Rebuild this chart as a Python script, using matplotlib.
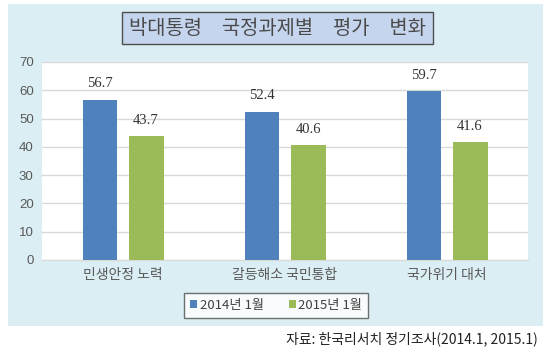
import matplotlib
matplotlib.use("Agg")
import matplotlib.pyplot as plt
import numpy as np
from matplotlib.patches import Rectangle

plt.rcParams['font.family'] = ['Noto Sans CJK KR', 'DejaVu Sans']

# --- data ---
categories = ['민생안정 노력', '갈등해소 국민통합', '국가위기 대처']
series_names = ['2014년 1월', '2015년 1월']
values_2014 = [56.7, 52.4, 59.7]
values_2015 = [43.7, 40.6, 41.6]
yticks = [0, 10, 20, 30, 40, 50, 60, 70]

title = '박대통령\u3000국정과제별\u3000평가\u3000변화'
source = '자료: 한국리서치 정기조사(2014.1, 2015.1)'

blue = '#4F81BD'
green = '#9BBB59'
panel_bg = '#DBEEF4'

W, H = 550, 356
fig = plt.figure(figsize=(W / 100, H / 100), dpi=100)
fig.patch.set_facecolor('white')

# outer light blue panel
fig.patches.append(Rectangle((8 / W, 1 - 326 / H), 535 / W, 322 / H,
                             transform=fig.transFigure, facecolor=panel_bg,
                             edgecolor='none', zorder=-5))

# title box
fig.patches.append(Rectangle((122 / W, 1 - 44 / H), 311 / W, 32 / H,
                             transform=fig.transFigure, facecolor='#C6D5EE',
                             edgecolor='#4D4D4D', linewidth=1.0, zorder=1))
fig.text(277.5 / W, 1 - 28.5 / H, title, ha='center', va='center',
         fontsize=14.3, color='#4a4a4a', fontweight='light', zorder=2)

ax = fig.add_axes([42 / W, 1 - 260 / H, 486 / W, 198 / H])
ax.set_zorder(3)
ax.set_facecolor('white')

x = np.arange(len(categories))
bw = 0.216
off = 0.142
b1 = ax.bar(x - off, values_2014, bw, color=blue, label=series_names[0], zorder=3)
b2 = ax.bar(x + off, values_2015, bw, color=green, label=series_names[1], zorder=3)

for bars in (b1, b2):
    for rect in bars:
        h = rect.get_height()
        ax.annotate(f'{h:.1f}', (rect.get_x() + rect.get_width() / 2, h),
                    xytext=(0, 11.5), textcoords='offset points',
                    ha='center', va='center', fontsize=10.5,
                    family='Liberation Serif', color='#333333')

ax.set_xlim(-0.5, 2.5)
ax.set_ylim(0, 70)
ax.set_yticks(yticks)
ax.set_yticklabels([str(t) for t in yticks], fontsize=9.5, color='#595959',
                   family='Liberation Sans')
ax.set_xticks(x)
ax.set_xticklabels(categories, fontsize=10, color='#595959', fontweight='light')
ax.tick_params(axis='both', length=0, pad=6)
ax.tick_params(axis='x', pad=6)
ax.grid(axis='y', color='#D9D9D9', linewidth=1.0, zorder=0)
ax.set_axisbelow(True)
for s in ['top', 'right', 'left']:
    ax.spines[s].set_visible(False)
ax.spines['bottom'].set_color('#D9D9D9')

leg = fig.legend(handles=[b1, b2], labels=series_names,
                 loc='center', bbox_to_anchor=(276 / W, 1 - 305.5 / H),
                 ncol=2, fontsize=9.5, frameon=True, fancybox=False,
                 handlelength=0.55, handleheight=0.55, handletextpad=0.2,
                 columnspacing=1.9, borderpad=0.45)
leg.set_zorder(5)
leg.get_frame().set_edgecolor('#4D4D4D')
leg.get_frame().set_facecolor('white')
leg.get_frame().set_linewidth(1.0)
for t in leg.get_texts():
    t.set_color('#404040')

fig.text(538 / W, 1 - 339 / H, source, ha='right', va='center',
         fontsize=10, color='#222222')

fig.savefig('out.png', dpi=100)
